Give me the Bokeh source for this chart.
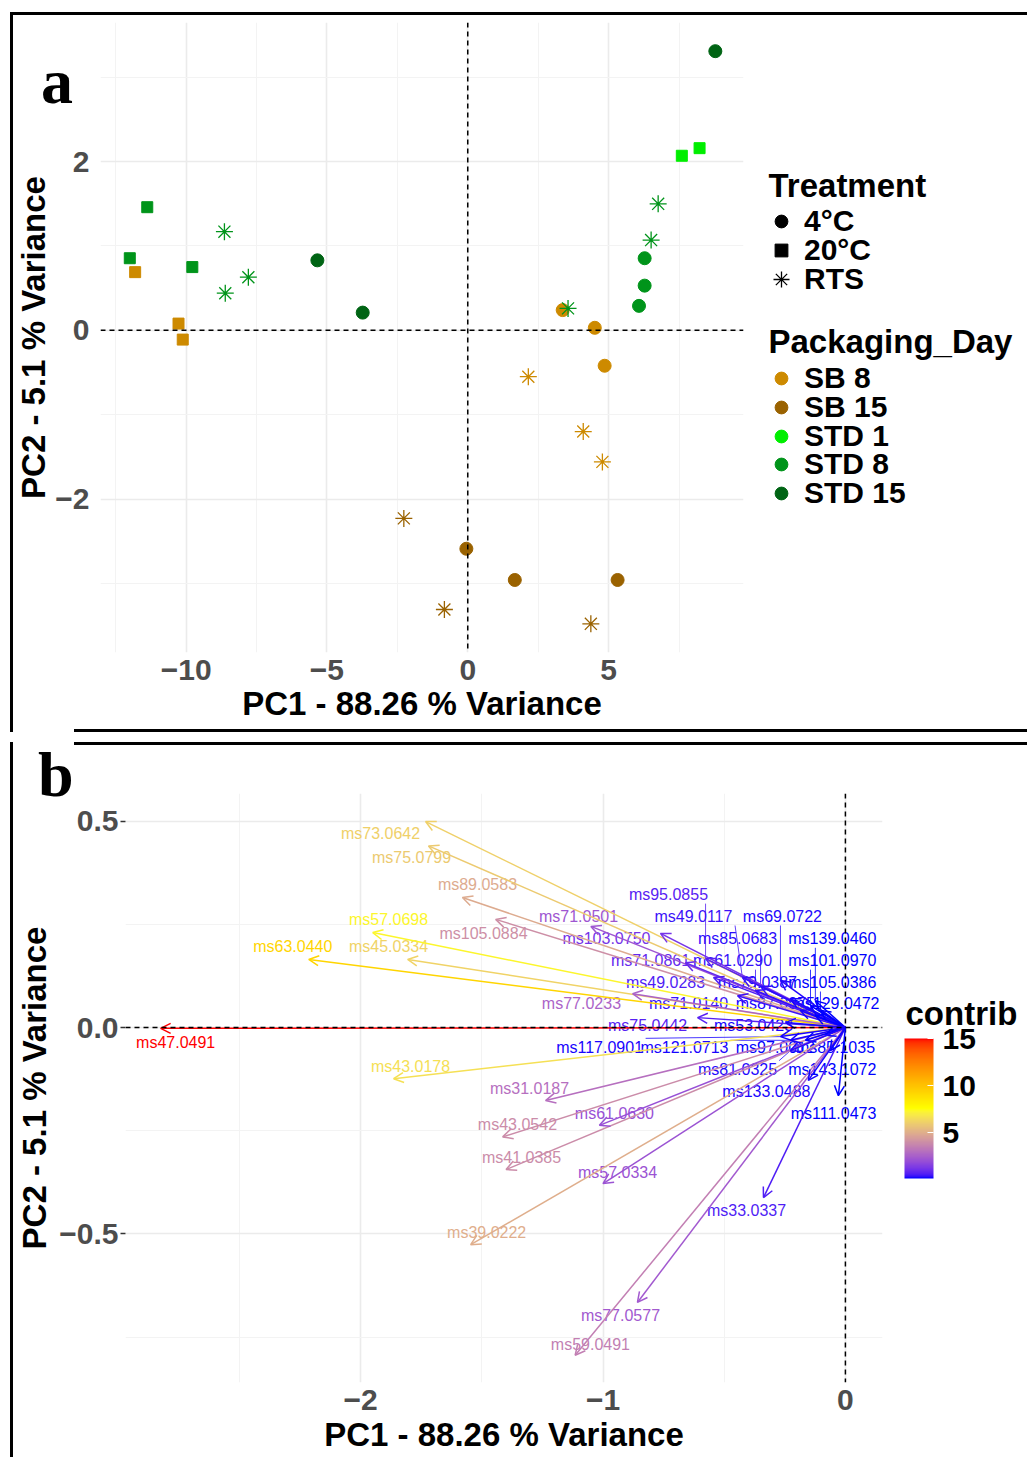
import numpy as np
from bokeh.plotting import figure
from bokeh.models import (Range1d, FixedTicker, Span, Label, Legend, LegendItem,
                          ColumnDataSource, Arrow, OpenHead, Div,
                          ColorBar, LinearColorMapper)
from bokeh.layouts import column, row
from bokeh.core.properties import value, field
from bokeh.embed import file_html
from bokeh.resources import INLINE

# ---------------- panel a data (individuals) ----------------
pc1 = [-11.38, -12.00, -9.78, -11.81, -10.27, -10.12,
       -8.64, -7.79, -8.61, 6.76, 6.51, 3.56,
       -5.34, -3.73, 8.79, 7.60, 8.23,
       6.28, 6.28, 6.08, 3.37, 4.51, 4.86,
       2.15, 4.10, 4.78, -2.27, -0.83, 4.37,
       -0.05, 1.67, 5.32]
pc2 = [1.46, 0.855, 0.75, 0.69, 0.08, -0.11,
       1.17, 0.63, 0.44, 1.50, 1.07, 0.26,
       0.83, 0.21, 3.31, 2.07, 2.16,
       0.855, 0.53, 0.29, 0.24, 0.03, -0.42,
       -0.55, -1.20, -1.56, -2.23, -3.31, -3.48,
       -2.59, -2.96, -2.96]
treatment = ["20°C", "20°C", "20°C", "20°C", "20°C", "20°C",
             "RTS", "RTS", "RTS", "RTS", "RTS", "RTS",
             "4°C", "4°C", "4°C", "20°C", "20°C",
             "4°C", "4°C", "4°C", "4°C", "4°C", "4°C",
             "RTS", "RTS", "RTS", "RTS", "RTS", "RTS",
             "4°C", "4°C", "4°C"]
packaging_day = ["STD 8", "STD 8", "STD 8", "SB 8", "SB 8", "SB 8",
                 "STD 8", "STD 8", "STD 8", "STD 8", "STD 8", "STD 8",
                 "STD 15", "STD 15", "STD 15", "STD 1", "STD 1",
                 "STD 8", "STD 8", "STD 8", "SB 8", "SB 8", "SB 8",
                 "SB 8", "SB 8", "SB 8", "SB 15", "SB 15", "SB 15",
                 "SB 15", "SB 15", "SB 15"]
treatment_levels = ["4°C", "20°C", "RTS"]
day_levels = ["SB 8", "SB 15", "STD 1", "STD 8", "STD 15"]
a_xticks = [-10, -5, 0, 5]
a_yticks = [-2, 0, 2]

# ---------------- panel b data (variables) ----------------
var_names = ["ms47.0491", "ms73.0642", "ms75.0799", "ms89.0583", "ms105.0884",
             "ms57.0698", "ms45.0334", "ms63.0440", "ms43.0178", "ms31.0187",
             "ms43.0542", "ms41.0385", "ms39.0222", "ms59.0491", "ms77.0577",
             "ms33.0337", "ms57.0334", "ms61.0630", "ms71.0501", "ms103.0750",
             "ms95.0855", "ms49.0117", "ms69.0722", "ms85.0683", "ms139.0460",
             "ms71.0861", "ms61.0290", "ms101.0970", "ms49.0283", "ms79.0387",
             "ms105.0386", "ms77.0233", "ms71.0140", "ms87.0975", "ms129.0472",
             "ms75.0442", "ms53.0423", "ms117.0901", "ms121.0713", "ms97.0012",
             "ms85.1035", "ms81.0325", "ms143.1072", "ms133.0488", "ms111.0473"]
dim1 = [-2.825, -1.732, -1.720, -1.580, -1.443,
        -1.950, -1.806, -2.214, -1.864, -1.237,
        -1.414, -1.400, -1.546, -1.115, -0.858,
        -0.338, -1.000, -1.015, -1.050, -0.763,
        -0.577, -0.425, -0.268, -0.350, -0.124,
        -0.660, -0.371, -0.144, -0.544, -0.227,
        -0.103, -0.878, -0.445, -0.186, -0.124,
        -0.610, -0.247, -0.268, -0.227, -0.165,
        -0.082, -0.227, -0.062, -0.153, -0.029]
dim2 = [-0.002, 0.499, 0.440, 0.315, 0.262,
        0.230, 0.165, 0.165, -0.124, -0.177,
        -0.265, -0.344, -0.526, -0.794, -0.666,
        -0.412, -0.378, -0.237, 0.245, 0.228,
        0.167, 0.121, 0.114, 0.100, 0.065,
        0.157, 0.090, 0.053, 0.121, 0.070,
        0.041, 0.082, 0.077, 0.041, 0.029,
        0.024, 0.012, -0.022, -0.031, -0.031,
        -0.019, -0.056, -0.056, -0.128, -0.165]
contrib = [15.0, 6.1, 5.9, 4.9, 4.0,
           7.3, 6.2, 9.3, 6.6, 3.0,
           3.9, 3.9, 5.0, 3.5, 2.3,
           0.6, 2.1, 2.0, 2.2, 1.2,
           0.7, 0.4, 0.25, 0.3, 0.15,
           0.9, 0.35, 0.15, 0.6, 0.2,
           0.15, 2.6, 0.4, 0.2, 0.15,
           0.7, 0.2, 0.2, 0.2, 0.15,
           0.15, 0.25, 0.15, 0.2, 0.15]
label_x = [-2.763, -1.918, -1.790, -1.518, -1.493,
           -1.885, -1.885, -2.280, -1.794, -1.303,
           -1.353, -1.336, -1.480, -1.052, -0.928,
           -0.408, -0.940, -0.953, -1.101, -0.986,
           -0.730, -0.627, -0.260, -0.445, -0.054,
           -0.804, -0.466, -0.054, -0.742, -0.363,
           -0.054, -1.089, -0.647, -0.289, -0.041,
           -0.816, -0.379, -1.014, -0.664, -0.289,
           -0.041, -0.445, -0.054, -0.326, -0.049]
label_y = [-0.036, 0.470, 0.412, 0.346, 0.228,
           0.262, 0.196, 0.196, -0.094, -0.148,
           -0.235, -0.315, -0.496, -0.768, -0.697,
           -0.443, -0.351, -0.208, 0.269, 0.215,
           0.322, 0.269, 0.269, 0.215, 0.215,
           0.162, 0.162, 0.162, 0.109, 0.109,
           0.109, 0.058, 0.058, 0.058, 0.058,
           0.005, 0.005, -0.048, -0.048, -0.048,
           -0.048, -0.102, -0.102, -0.155, -0.208]
b_xticks = [-2, -1, 0]
b_yticks = [-0.5, 0.0, 0.5]
contrib_ticks = [5, 10, 15]

# ---------------- styles ----------------
FONT = "Liberation Sans"
day_colors = {"SB 8": "#CD8A00", "SB 15": "#9A6200", "STD 1": "#00EE00",
              "STD 8": "#00941A", "STD 15": "#006414"}
GRID_MAJ = "#EBEBEB"
GRID_MIN = "#F3F3F3"


def _lin(c):
    return c / 12.92 if c <= 0.04045 else ((c + 0.055) / 1.055) ** 2.4


def hex_to_lab(h):
    r, g, b = [_lin(int(h[i:i + 2], 16) / 255) for i in (1, 3, 5)]
    X = (0.4124 * r + 0.3576 * g + 0.1805 * b) / 0.95047
    Y = (0.2126 * r + 0.7152 * g + 0.0722 * b)
    Z = (0.0193 * r + 0.1192 * g + 0.9505 * b) / 1.08883
    f = lambda t: t ** (1 / 3) if t > 0.008856 else 7.787 * t + 16 / 116
    fx, fy, fz = f(X), f(Y), f(Z)
    return 116 * fy - 16, 500 * (fx - fy), 200 * (fy - fz)


def lab_to_hex(L, a, b):
    fy = (L + 16) / 116
    fx = fy + a / 500
    fz = fy - b / 200
    finv = lambda t: t ** 3 if t ** 3 > 0.008856 else (t - 16 / 116) / 7.787
    X, Y, Z = finv(fx) * 0.95047, finv(fy), finv(fz) * 1.08883
    R = 3.2406 * X - 1.5372 * Y - 0.4986 * Z
    G = -0.9689 * X + 1.8758 * Y + 0.0415 * Z
    B = 0.0557 * X - 0.2040 * Y + 1.0570 * Z
    gam = lambda c: 12.92 * c if c <= 0.0031308 else 1.055 * c ** (1 / 2.4) - 0.055
    out = [min(max(gam(c), 0), 1) for c in (R, G, B)]
    return "#%02X%02X%02X" % tuple(int(round(c * 255)) for c in out)


GRAD = [hex_to_lab(c) for c in ("#0000FF", "#FFFF00", "#FF0000")]
CMIN, CMAX = min(contrib), max(contrib)


def grad_color(v):
    t = (v - CMIN) / (CMAX - CMIN)
    t = min(max(t, 0), 1)
    if t < 0.5:
        s, c0, c1 = t / 0.5, GRAD[0], GRAD[1]
    else:
        s, c0, c1 = (t - 0.5) / 0.5, GRAD[1], GRAD[2]
    return lab_to_hex(*[c0[k] + (c1[k] - c0[k]) * s for k in range(3)])


def minus(v):
    s = ("%g" % abs(v)) if v != 0 else "0"
    return ("\u2212" + s) if v < 0 else s


def no_align(p):
    if "frame_align" in p.properties():
        p.frame_align = False


def blank_strip(w, h):
    p = figure(width=w, height=h, x_range=Range1d(0, w), y_range=Range1d(0, h),
               output_backend="svg", toolbar_location=None,
               min_border_left=0, min_border_right=0, min_border_top=0, min_border_bottom=0)
    no_align(p)
    p.axis.visible = False
    p.grid.visible = False
    p.outline_line_color = None
    return p


def style_axes(p, ticks):
    for ax in (p.xaxis, p.yaxis):
        ax.axis_line_color = None
        ax.minor_tick_line_color = None
        ax.major_label_text_font = FONT
        ax.major_label_text_font_size = "30px"
        ax.major_label_text_font_style = "bold"
        ax.major_label_text_color = "#4D4D4D"
        ax.axis_label_text_font = FONT
        ax.axis_label_text_font_size = "33px"
        ax.axis_label_text_font_style = "bold"
        ax.axis_label_text_color = "black"
        if ticks:
            ax.major_tick_line_color = "#333333"
            ax.major_tick_line_width = 1.5
            ax.major_tick_out = 5
            ax.major_tick_in = 0
        else:
            ax.major_tick_line_color = None
            ax.major_tick_out = 0
            ax.major_tick_in = 0
    for g in (p.xgrid, p.ygrid):
        g.grid_line_color = GRID_MAJ
        g.grid_line_width = 1.6
        g.minor_grid_line_color = GRID_MIN
        g.minor_grid_line_width = 1.0


def add_label(p, sx, sy, text, size, align="left", baseline="middle"):
    p.add_layout(Label(x=sx, y=sy, x_units="screen", y_units="screen", text=text,
                       text_font=FONT, text_font_size=size, text_font_style="bold",
                       text_align=align, text_baseline=baseline, text_color="black"))


# ================= PANEL A =================
WA, HA = 760, 743
FA_L, FA_R, FA_T, FA_B = 100, 743, 22, 652   # frame in page px

pA = figure(width=WA, height=HA, x_range=Range1d(-13.04, 9.79), y_range=Range1d(-3.82, 3.65),
            output_backend="svg", toolbar_location=None,
            min_border_left=FA_L, min_border_right=WA - FA_R,
            min_border_top=FA_T, min_border_bottom=HA - FA_B)
no_align(pA)
pA.outline_line_color = None
pA.xaxis.ticker = FixedTicker(ticks=a_xticks, minor_ticks=[-12.5, -7.5, -2.5, 2.5, 7.5])
pA.yaxis.ticker = FixedTicker(ticks=a_yticks, minor_ticks=[-3, -1, 1, 3])
pA.xaxis.major_label_overrides = {t: minus(t) for t in a_xticks}
pA.yaxis.major_label_overrides = {t: minus(t) for t in a_yticks}
pA.xaxis.axis_label = "PC1 - 88.26 % Variance"
pA.yaxis.axis_label = "PC2 - 5.1 % Variance"
style_axes(pA, False)
pA.xaxis.major_label_standoff = 3
pA.xaxis.axis_label_standoff = 2
pA.yaxis.major_label_standoff = 7
pA.yaxis.axis_label_standoff = 0

pA.add_layout(Span(location=0, dimension="height", line_color="black", line_width=1.5, line_dash="5 4"))
pA.add_layout(Span(location=0, dimension="width", line_color="black", line_width=1.5, line_dash="5 4"))

marker_style = {"4°C": ("circle", 13), "20°C": ("square", 11), "RTS": ("asterisk", 17)}
for tr in treatment_levels:
    idx = [i for i, t in enumerate(treatment) if t == tr]
    src = ColumnDataSource(dict(x=[pc1[i] for i in idx], y=[pc2[i] for i in idx],
                                c=[day_colors[packaging_day[i]] for i in idx]))
    mk, sz = marker_style[tr]
    if mk == "asterisk":
        pA.scatter("x", "y", source=src, marker=mk, size=sz, line_color=field("c"), line_width=1.3)
    else:
        pA.scatter("x", "y", source=src, marker=mk, size=sz, fill_color=field("c"), line_color=field("c"))

# ================= LEGEND STRIP (right of panel a) =================
WL = 1027 - WA
pL = blank_strip(WL, HA)
KEY_X = 781      # page x of legend key centre
TXT_X = 804      # page x of legend text start


def add_leg_item(row_y, label, renderer, box=32):
    h = max(box, 34)
    leg = Legend(items=[LegendItem(label=label, renderers=[renderer])],
                 location=(KEY_X - box / 2 - WA, HA - (row_y + h / 2)), padding=0, margin=0, spacing=0,
                 glyph_width=box, glyph_height=box, label_height=h,
                 label_standoff=int(TXT_X - (KEY_X + box / 2)),
                 label_text_font=FONT, label_text_font_size="30px", label_text_font_style="bold",
                 label_text_color="black", border_line_color=None, background_fill_alpha=0)
    pL.add_layout(leg)


add_label(pL, 768 - WA, HA - 185, "Treatment", "33px")
for lev, ry in zip(treatment_levels, [221, 250, 279]):
    mk, sz = marker_style[lev]
    if mk == "asterisk":
        r = pL.scatter([-500], [-500], marker=mk, size=sz, line_color="black", line_width=1.3)
        add_leg_item(ry, lev, r, box=40)
    else:
        r = pL.scatter([-500], [-500], marker=mk, size=sz, fill_color="black", line_color="black")
        add_leg_item(ry, lev, r)

add_label(pL, 768 - WA, HA - 341, "Packaging_Day", "33px")
for lev, ry in zip(day_levels, [378, 407, 436, 464, 493]):
    r = pL.scatter([-500], [-500], marker="circle", size=13, fill_color=day_colors[lev],
                   line_color=day_colors[lev])
    add_leg_item(ry, lev, r)

# ================= PANEL B =================
WB, HB = 890, 1457 - HA
OFF_B = HA
FB_L, FB_R, FB_T, FB_B = 125, 882, 793 - OFF_B, 1382 - OFF_B
XB = (-2.97, 0.153)
YB = (-0.86, 0.567)

pB = figure(width=WB, height=HB, x_range=Range1d(*XB), y_range=Range1d(*YB),
            output_backend="svg", toolbar_location=None,
            min_border_left=FB_L, min_border_right=WB - FB_R,
            min_border_top=FB_T, min_border_bottom=HB - FB_B)
no_align(pB)
pB.outline_line_color = None
pB.xaxis.ticker = FixedTicker(ticks=b_xticks, minor_ticks=[-2.5, -1.5, -0.5])
pB.yaxis.ticker = FixedTicker(ticks=b_yticks, minor_ticks=[-0.75, -0.25, 0.25])
pB.xaxis.major_label_overrides = {t: minus(t) for t in b_xticks}
pB.yaxis.major_label_overrides = {t: (("\u2212" if t < 0 else "") + "%.1f" % abs(t)) for t in b_yticks}
pB.xaxis.axis_label = "PC1 - 88.26 % Variance"
pB.yaxis.axis_label = "PC2 - 5.1 % Variance"
style_axes(pB, True)
pB.xaxis.major_tick_line_color = None
pB.xaxis.major_tick_out = 0
pB.xaxis.major_label_standoff = 3
pB.xaxis.axis_label_standoff = 3
pB.yaxis.major_label_standoff = 2
pB.yaxis.axis_label_standoff = 3

pB.add_layout(Span(location=0, dimension="height", line_color="black", line_width=1.5, line_dash="5 4"))

cols = [grad_color(v) for v in contrib]
n = len(var_names)
arrow_src = ColumnDataSource(dict(x0=[0.0] * n, y0=[0.0] * n, x1=dim1, y1=dim2, col=cols))
pB.add_layout(Arrow(x_start="x0", y_start="y0", x_end="x1", y_end="y1", source=arrow_src,
                    line_color=field("col"), line_width=1.5,
                    end=OpenHead(size=10, line_color=field("col"), line_width=1.5)))
pB.add_layout(Span(location=0, dimension="width", line_color="black", line_width=1.5, line_dash="5 4"))

# repel segments from label box to arrow tip
kx = (FB_R - FB_L) / (XB[1] - XB[0])
ky = (FB_B - FB_T) / (YB[1] - YB[0])
sx0, sy0, sx1, sy1, sc = [], [], [], [], []
for i, nm in enumerate(var_names):
    hw = (len(nm) * 8.8 / 2 + 2) / kx
    hh = 9 / ky
    cx = min(max(dim1[i], label_x[i] - hw), label_x[i] + hw)
    cy = min(max(dim2[i], label_y[i] - hh), label_y[i] + hh)
    d = np.hypot((cx - dim1[i]) * kx, (cy - dim2[i]) * ky)
    if d > 12:
        sx0.append(cx); sy0.append(cy); sx1.append(dim1[i]); sy1.append(dim2[i]); sc.append(cols[i])
pB.segment(x0="x0", y0="y0", x1="x1", y1="y1",
           source=ColumnDataSource(dict(x0=sx0, y0=sy0, x1=sx1, y1=sy1, col=sc)),
           line_color=field("col"), line_width=0.8)

lab_src = ColumnDataSource(dict(lx=label_x, ly=label_y, name=var_names, col=cols))
pB.text(x="lx", y="ly", text="name", source=lab_src, text_color=field("col"),
        text_font=value(FONT), text_font_size="16px", text_align="center", text_baseline="middle")

# ================= COLOUR BAR STRIP (right of panel b) =================
WC = 1027 - WB
pC = blank_strip(WC, HB)
palette = [grad_color(CMIN + (CMAX - CMIN) * k / 255) for k in range(256)]
mapper = LinearColorMapper(palette=palette, low=CMIN, high=CMAX)
cb = ColorBar(color_mapper=mapper, ticker=FixedTicker(ticks=contrib_ticks),
              width=29, height=140, padding=0, margin=0,
              location=(904 - WB, 1457 - 1178),
              major_label_text_font=FONT, major_label_text_font_size="30px",
              major_label_text_font_style="bold", major_label_text_color="black",
              label_standoff=9, major_tick_line_color="white", major_tick_in=6, major_tick_out=0,
              minor_tick_line_color=None, bar_line_color=None, border_line_color=None,
              background_fill_alpha=0)
pC.add_layout(cb)
add_label(pC, 905 - WB, 1457 - 1013, "contrib", "33px", baseline="middle")

# ================= overlay: panel letters and frame rules =================
def rule(x, y, w, h):
    return ('<div style="position:absolute;left:%dpx;top:%dpx;width:%dpx;height:%dpx;'
            'background:black;"></div>' % (x, y, w, h))


def letter(ch, x, y):
    return ('<div style="position:absolute;left:%dpx;top:%dpx;font-family:\'Liberation Serif\';'
            'font-weight:bold;font-size:64px;line-height:64px;color:black;">%s</div>' % (x, y, ch))


overlay_html = (rule(10, 12, 1017, 3) + rule(10, 12, 3, 720) + rule(74, 729, 953, 3) +
                rule(74, 742, 953, 3) + rule(10, 742, 3, 715) +
                letter("a", 41, 50) + letter("b", 38, 743))
overlay = Div(text=overlay_html, width=1027, height=0, margin=0,
              styles={"overflow": "visible", "position": "relative", "z-index": "10"})

layout = column(overlay, row(pA, pL, spacing=0), row(pB, pC, spacing=0), spacing=0)
open("out.html", "w").write(file_html(layout, INLINE))
